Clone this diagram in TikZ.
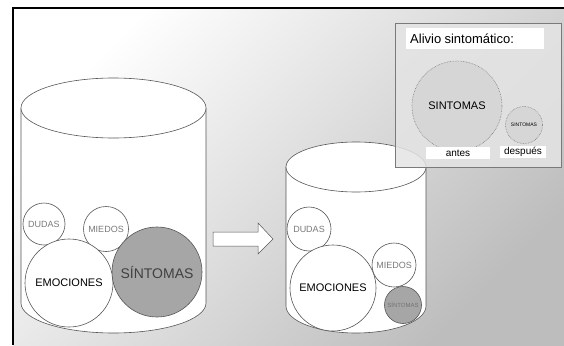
\documentclass[tikz,border=0pt]{standalone}
\usepackage{fontspec}
\setmainfont{Liberation Sans}
\definecolor{lineg}{HTML}{555555}
\definecolor{softg}{HTML}{7A7A7A}
\definecolor{sintg}{HTML}{A6A6A6}
\definecolor{insetg}{HTML}{E4E4E4}
\definecolor{dotg}{HTML}{D6D6D6}
\tikzset{
  bubble/.style={circle, draw=lineg, fill=white, line width=0.6pt, inner sep=0pt},
  sintbubble/.style={bubble, fill=sintg},
  dotbubble/.style={circle, draw=softg, densely dotted, fill=dotg, line width=0.6pt, inner sep=0pt},
  tag/.style={fill=white, inner sep=1pt}
}
\newcommand{\fs}[1]{\fontsize{#1}{#1}\selectfont}
\begin{document}
\begin{tikzpicture}[x=1pt, y=-1pt]
\useasboundingbox (0,0) rectangle (564,345);
% background and frame
\shade[top color=white, middle color=white, bottom color=black!26, shading angle=45] (13,8) rectangle (564,345);
\draw[black, line width=2.2pt] (13,345) -- (13,8) -- (564,8);
% left cylinder
\draw[lineg, fill=white, line width=0.6pt] (21,108) -- (21,303) arc[start angle=180, end angle=0, x radius=92.5, y radius=30] -- (206,108);
\draw[lineg, fill=white, line width=0.6pt] (113.5,108) ellipse [x radius=92.5, y radius=30];
\node[bubble, minimum size=42] (dudasL) at (44,224) {\fs{9}\color{softg}DUDAS};
\node[bubble, minimum size=45] (miedosL) at (106,229) {\fs{9}\color{softg}MIEDOS};
\node[bubble, minimum size=88] (emocL) at (69,283) {\fs{11}EMOCIONES};
\node[sintbubble, minimum size=90] (sintL) at (157,272) {\fs{14}\color{black!75}SÍNTOMAS};
% arrow
\draw[lineg, fill=white, line width=0.5pt] (213,232) -- (258,232) -- (258,223) -- (273,239) -- (258,254) -- (258,246) -- (213,246) -- cycle;
% right cylinder
\draw[lineg, fill=white, line width=0.6pt] (286,167) -- (286,306) arc[start angle=180, end angle=0, x radius=70, y radius=27] -- (426,167);
\draw[lineg, fill=white, line width=0.6pt] (356,167) ellipse [x radius=70, y radius=25];
\node[bubble, minimum size=44] (dudasR) at (309,229) {\fs{9}\color{softg}DUDAS};
\node[bubble, minimum size=86] (emocR) at (333,288) {\fs{11}EMOCIONES};
\node[bubble, minimum size=44] (miedosR) at (394,265) {\fs{9}\color{softg}MIEDOS};
\node[sintbubble, minimum size=37] (sintR) at (403,305) {\fs{6}\color{black!55}SÍNTOMAS};
% inset
\draw[softg, fill=insetg, fill opacity=0.85, line width=0.6pt] (395,23) rectangle (561,167);
\node[tag, minimum width=138, minimum height=21, anchor=west, text width=130] (titulo) at (406,39) {\fs{13}Alivio sintomático:};
\node[dotbubble, minimum size=90] (antesC) at (457,106) {\fs{11}SINTOMAS};
\node[dotbubble, minimum size=37] (despuesC) at (524,125) {\fs{5}SINTOMAS};
\node[tag, minimum width=64, minimum height=12] (antes) at (458,153) {\fs{10}antes};
\node[tag, minimum width=46, minimum height=12] (despues) at (523,152) {\fs{10}después};
\end{tikzpicture}
\end{document}
